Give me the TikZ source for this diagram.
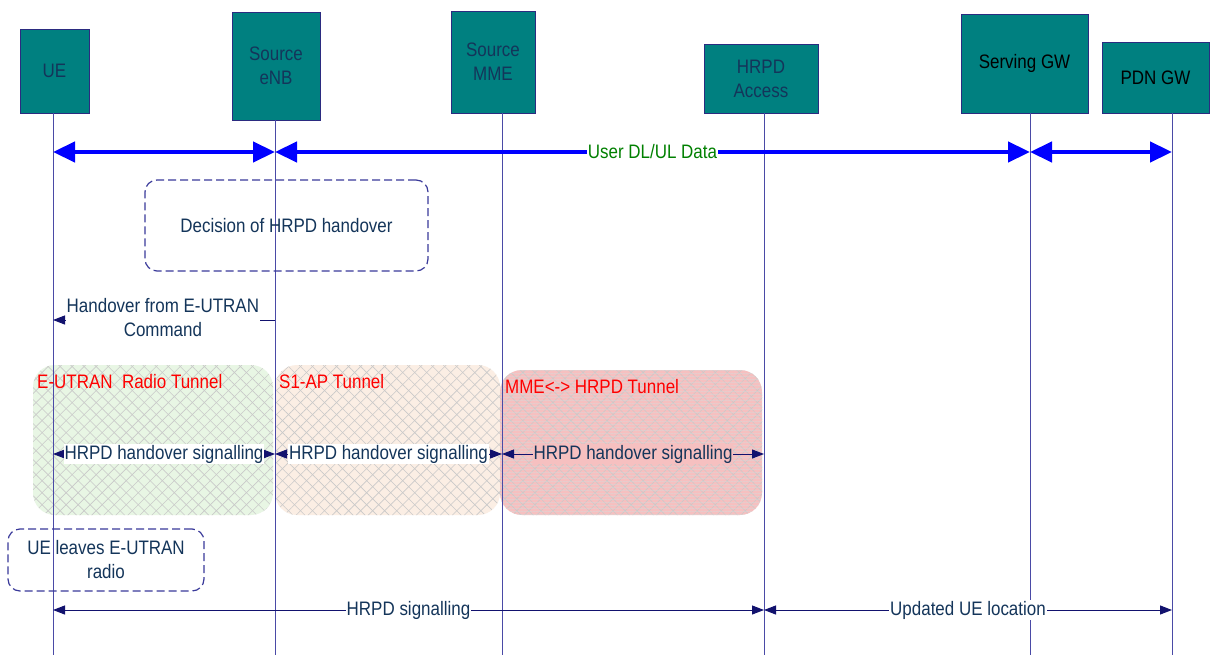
\documentclass[tikz,border=0pt]{standalone}
\usepackage{fontspec}
\setmainfont{Liberation Sans}[FakeStretch=0.87]
\usetikzlibrary{arrows.meta,patterns.meta}
\definecolor{boxteal}{HTML}{008080}
\definecolor{boxline}{HTML}{2B2B80}
\definecolor{dashcol}{HTML}{3A3A9A}
\definecolor{lifecol}{HTML}{4A4AA6}
\definecolor{navy}{HTML}{12126E}
\definecolor{txtnavy}{HTML}{14355A}
\definecolor{lblred}{HTML}{FF0000}
\definecolor{lblgreen}{HTML}{008000}
\definecolor{bigblue}{HTML}{0000FF}
\definecolor{fgreen}{HTML}{E8F6E4}
\definecolor{forange}{HTML}{FBEEE4}
\definecolor{fred}{HTML}{F6C0C0}
\tikzset{
  entity/.style={draw=boxline, line width=0.8pt, fill=boxteal, text=txtnavy, align=center, inner sep=0pt},
  lifeline/.style={draw=lifecol, line width=0.9pt},
  bigarrow/.style={draw=bigblue, line width=4.5pt, {Triangle[length=22pt,width=20pt]}-{Triangle[length=22pt,width=20pt]}},
  sigarrow/.style={draw=navy, line width=1pt, {Triangle[length=12pt,width=9pt]}-{Triangle[length=12pt,width=9pt]}},
  onearrow/.style={draw=navy, line width=1pt, -{Triangle[length=12pt,width=9pt]}},
  lbl/.style={fill=white, text=txtnavy, inner sep=1pt, align=center},
  dashbox/.style={draw=dashcol, line width=1.2pt, dash pattern=on 8pt off 4pt, rounded corners=12pt, text=txtnavy, align=center},
  tunnellbl/.style={text=lblred, anchor=west, inner sep=0pt},
  hatchA/.style={pattern={Lines[angle=45,distance=8.5pt,line width=0.6pt]}, pattern color=gray!42},
  hatchB/.style={pattern={Lines[angle=-45,distance=8.5pt,line width=0.6pt]}, pattern color=gray!42},
  gridpat/.style={pattern={Lines[angle=0,distance=3pt,line width=0.3pt]}, pattern color=white!70!gray, opacity=0.5},
}
\begin{document}
\begin{tikzpicture}[x=1pt,y=-1pt,font=\fontsize{19.5}{24}\selectfont]
\fill[white] (0,0) rectangle (1210,655);
\useasboundingbox (0,0) rectangle (1210,655);

% tunnel regions
\fill[fgreen, rounded corners=22pt] (33,365) rectangle (273,515);
\fill[hatchA, rounded corners=22pt] (33,365) rectangle (273,515);
\fill[hatchB, rounded corners=22pt] (33,365) rectangle (273,515);
\fill[forange, rounded corners=22pt] (275,365) rectangle (500,515);
\fill[hatchA, rounded corners=22pt] (275,365) rectangle (500,515);
\fill[hatchB, rounded corners=22pt] (275,365) rectangle (500,515);
\fill[fred, rounded corners=22pt] (500,370) rectangle (762,515);
\fill[hatchA, rounded corners=22pt] (500,370) rectangle (762,515);
\fill[hatchB, rounded corners=22pt] (500,370) rectangle (762,515);
\fill[gridpat, rounded corners=22pt] (500,370) rectangle (762,515);

% entity boxes
\node[entity, minimum width=69, minimum height=84] (ue) at (54.5,71) {UE};
\node[entity, minimum width=88, minimum height=108] (enb) at (276,66) {Source\\eNB};
\node[entity, minimum width=84, minimum height=102] (mme) at (493,62) {Source\\MME};
\node[entity, minimum width=114, minimum height=69] (hrpd) at (761,78.5) {HRPD\\Access};
\node[entity, minimum width=127, minimum height=99, text=black] (sgw) at (1024.5,63.5) {Serving GW};
\node[entity, minimum width=107, minimum height=71, text=black] (pdn) at (1155.5,77.5) {PDN GW};

% lifeline tops and bottom level
\coordinate (ueT) at (53,113);
\coordinate (enbT) at (275,120);
\coordinate (mmeT) at (502,113);
\coordinate (hrpdT) at (764,113);
\coordinate (sgwT) at (1030,113);
\coordinate (pdnT) at (1172,113);
\coordinate (bot) at (0,655);
\foreach \l in {ueT,enbT,mmeT,hrpdT,sgwT,pdnT}
  \draw[lifeline] (\l) -- (\l |- bot);

% message levels
\coordinate (m1) at (0,152);
\coordinate (m2) at (0,320);
\coordinate (m3) at (0,454);
\coordinate (m4) at (0,610);

% user data
\draw[bigarrow] (ueT |- m1) -- (enbT |- m1);
\draw[bigarrow] (enbT |- m1) -- (sgwT |- m1)
  node[midway, fill=white, text=lblgreen, inner sep=1pt] (udata) {User DL/UL Data};
\draw[bigarrow] (sgwT |- m1) -- (pdnT |- m1);

% decision
\node[dashbox, minimum width=283, minimum height=91] (dec) at (286.5,225.5) {Decision of HRPD handover};

% handover command
\draw[onearrow] (enbT |- m2) -- (ueT |- m2)
  node[lbl, pos=0.505, yshift=2pt] (hocmd) {Handover from E-UTRAN\\Command};

% tunnel labels
\node[tunnellbl] (t1) at (37,382) {E-UTRAN\ \ Radio Tunnel};
\node[tunnellbl] (t2) at (279,382) {S1-AP Tunnel};
\node[tunnellbl] (t3) at (505,387) {MME<-> HRPD Tunnel};

% HRPD handover signalling
\draw[sigarrow] (ueT |- m3) -- (enbT |- m3) node[lbl, midway] (s1) {HRPD handover signalling};
\draw[sigarrow] (enbT |- m3) -- (mmeT |- m3) node[lbl, midway] (s2) {HRPD handover signalling};
\draw[sigarrow] (mmeT |- m3) -- (hrpdT |- m3) node[lbl, midway, fill=fred] (s3) {HRPD handover signalling};

% UE leaves
\node[dashbox, minimum width=196, minimum height=62] (leave) at (106,560) {UE leaves E-UTRAN\\radio};

% final signalling
\draw[sigarrow] (ueT |- m4) -- (hrpdT |- m4) node[lbl, midway] (s4) {HRPD signalling};
\draw[sigarrow] (hrpdT |- m4) -- (pdnT |- m4) node[lbl, midway] (s5) {Updated UE location};
\end{tikzpicture}
\end{document}
